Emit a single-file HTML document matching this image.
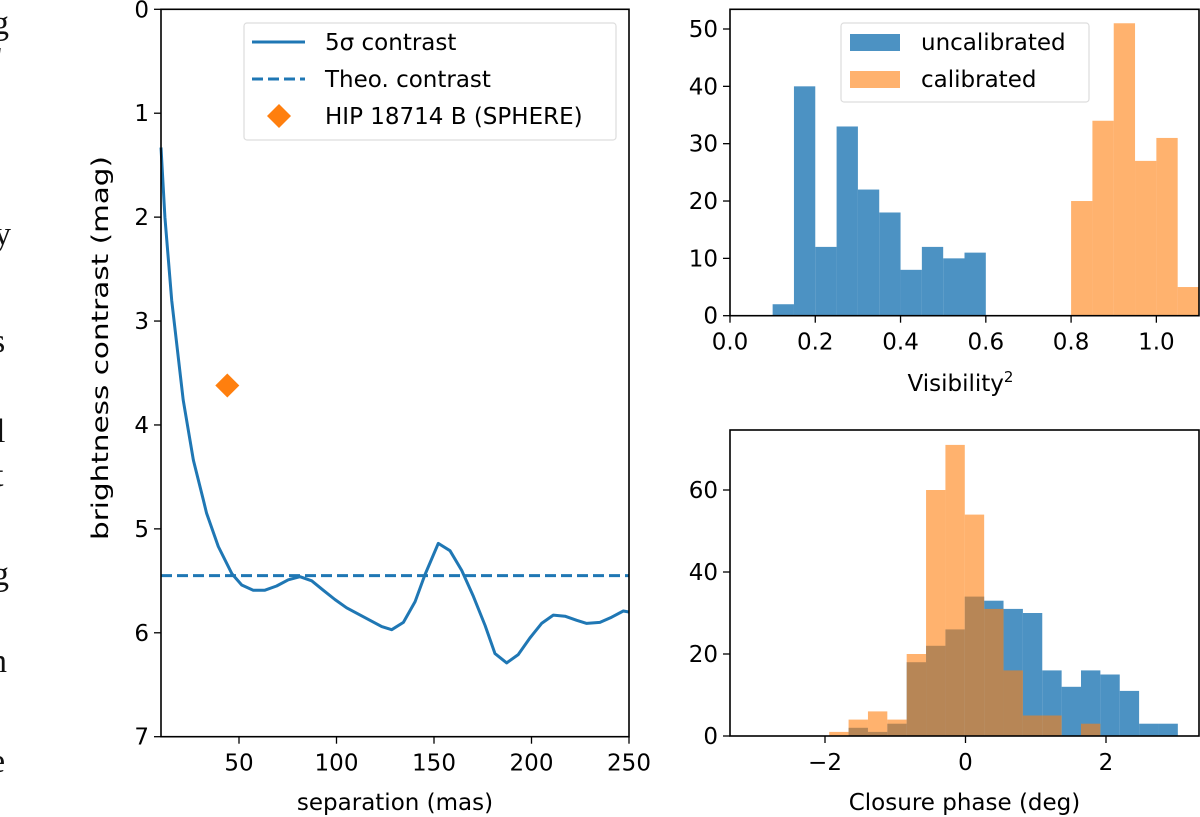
<!DOCTYPE html>
<html><head><meta charset="utf-8"><style>
html,body{margin:0;padding:0;background:#fff;}
svg{display:block;font-family:"DejaVu Sans","Liberation Sans",sans-serif;}
</style></head><body>
<svg id="fig" width="1200" height="817" viewBox="0 0 1200 817" xmlns="http://www.w3.org/2000/svg">
<g font-family="Liberation Serif, serif" font-size="34" fill="#111">
<text x="-8" y="34">g</text><text x="-4" y="70">'</text><text x="-6" y="245">y</text><text x="-8" y="352">s</text><text x="-4" y="442">l</text><text x="-6" y="486">t</text><text x="-8" y="585">g</text><text x="-10" y="672">n</text><text x="-10" y="772">e</text>
</g>
</svg>
<script>
// ---------- Left panel data ----------
const sepVals = [10,12,15.5,21.4,26.6,31.7,33.4,39.4,46.3,51.4,57.3,63.3,69.3,75.3,81.3,87.3,93.2,99.2,105.2,111.2,117.2,123.2,128.3,134.3,140.3,145.4,152.2,158.2,164.2,170.2,176.2,181.3,187.3,193.2,199.2,205.2,211.2,217.2,223.2,228.3,235.1,241.1,247.1,250];
const contrastVals = [1.33,2.0,2.8,3.76,4.34,4.72,4.85,5.17,5.43,5.54,5.59,5.59,5.55,5.49,5.46,5.50,5.59,5.68,5.76,5.82,5.88,5.94,5.97,5.90,5.70,5.44,5.14,5.21,5.40,5.65,5.93,6.20,6.29,6.21,6.05,5.91,5.83,5.84,5.88,5.91,5.90,5.85,5.79,5.80];
const theoContrast = [5.45];
const companionSep = [44];
const companionMag = [3.62];
const leftXTicks = [50,100,150,200,250];
const leftYTicks = [0,1,2,3,4,5,6,7];
// ---------- Top-right data ----------
const visEdgesStart = [0.10];
const visBinWidth = [0.05];
const visUncal = [2,40,12,33,22,18,8,12,10,11];
const visCalStart = [0.80];
const visCal = [20,34,51,27,31,5];
const visXTicks = [0.0,0.2,0.4,0.6,0.8,1.0];
const visYTicks = [0,10,20,30,40,50];
// ---------- Bottom-right data ----------
const cpStart = [-1.94];
const cpWidth = [0.2757];
const cpUncal = [0,2,1,3,18,22,26,34,33,31,30,16,12,16,15,11,3,3];
const cpCal = [1,4,6,4,20,60,71,54,31,16,5,5,0,3];
const cpXTicks = [-2,0,2];
const cpYTicks = [0,20,40,60];

const NS='http://www.w3.org/2000/svg';
const svg=document.getElementById('fig');
function mk(tag,attrs,parent){const e=document.createElementNS(NS,tag);for(const k in attrs)e.setAttribute(k,attrs[k]);(parent||svg).appendChild(e);return e;}
function lin(d0,d1,r0,r1){return v=>r0+(v-d0)*(r1-r0)/(d1-d0);}
const BLUE='#1f77b4',ORANGE='#ff7f0e';

function axesFrame(g,L,T,R,B){
  const f=mk('rect',{x:L,y:T,width:R-L,height:B-T,fill:'none',stroke:'#000','stroke-width':1.6},g);
  
  
}
function xTicks(g,ticks,sx,B,fmt){
  ticks.forEach(t=>{const x=sx(t);
    const l=mk('line',{x1:x,x2:x,y1:B,y2:B+7,stroke:'#000','stroke-width':1.3},g);
    
    
    const tx=mk('text',{x:x,y:B+34,'text-anchor':'middle','font-size':23},g);
    
    
    tx.textContent=fmt(t);});
}
function yTicks(g,ticks,sy,L,fmt){
  ticks.forEach(t=>{const y=sy(t);
    const l=mk('line',{x1:L-7,x2:L,y1:y,y2:y,stroke:'#000','stroke-width':1.3},g);
    
    
    const tx=mk('text',{x:L-12,y:y+8,'text-anchor':'end','font-size':23},g);
    
    
    tx.textContent=fmt(t);});
}

// ===== Left panel =====
(function(){
  const L=161,R=629,T=9.3,B=736.7;
  const g=mk('g',{});
  
  
  const sx=lin(10,250,L,R), sy=lin(0,7,T,B);
  const th=mk('line',{x1:L,x2:R,y1:sy(theoContrast[0]),y2:sy(theoContrast[0]),stroke:BLUE,'stroke-width':3,'stroke-dasharray':'11,5'},g);
  
  
  const pts=sepVals.map((s,i)=>sx(s).toFixed(1)+','+sy(contrastVals[i]).toFixed(1)).join(' ');
  const pl=mk('polyline',{points:pts,fill:'none',stroke:BLUE,'stroke-width':3,'stroke-linejoin':'round'},g);
  
  
  companionSep.forEach((s,i)=>{const cx=sx(s),cy=sy(companionMag[i]),r=12;
    const d=mk('polygon',{points:`${cx},${cy-r} ${cx+r},${cy} ${cx},${cy+r} ${cx-r},${cy}`,fill:ORANGE},g);
    
    });
  axesFrame(g,L,T,R,B);
  xTicks(g,leftXTicks,sx,B,t=>String(t));
  yTicks(g,leftYTicks,sy,L,t=>String(t));
  const xl=mk('text',{x:(L+R)/2,y:810,'text-anchor':'middle','font-size':23},g);
  
  
  xl.textContent='separation (mas)';
  const yl=mk('text',{x:0,y:0,'text-anchor':'middle','font-size':23,textLength:384,lengthAdjust:'spacingAndGlyphs',transform:`translate(108,348) rotate(-90)`},g);
  
  
  yl.textContent='brightness contrast (mag)';
  const lg=mk('g',{},g);
  
  
  mk('rect',{x:244,y:23,width:372,height:117,rx:3,fill:'#fff',stroke:'#ddd','stroke-width':1.2},lg);
  mk('line',{x1:252,x2:305,y1:42,y2:42,stroke:BLUE,'stroke-width':3},lg);
  mk('line',{x1:252,x2:305,y1:79,y2:79,stroke:BLUE,'stroke-width':3,'stroke-dasharray':'11,5'},lg);
  mk('polygon',{points:'279,104 291,116 279,128 267,116',fill:ORANGE},lg);
  [['5σ contrast',50],['Theo. contrast',87],['HIP 18714 B (SPHERE)',124]].forEach(([t,y])=>{
    const e=mk('text',{x:325,y:y,'font-size':23},lg);
    
    
    e.textContent=t;});
})();

// ===== Top-right histogram =====
(function(){
  const L=730,R=1199,T=9.3,B=315.7;
  const g=mk('g',{});
  
  
  const sx=lin(0,1.1,L,R), sy=lin(0,50,B,29);
  visUncal.forEach((c,i)=>{const x0=visEdgesStart[0]+i*visBinWidth[0];
    const r=mk('rect',{x:sx(x0),y:sy(c),width:sx(x0+visBinWidth[0])-sx(x0),height:B-sy(c),fill:BLUE,'fill-opacity':0.8},g);
    
    });
  visCal.forEach((c,i)=>{const x0=visCalStart[0]+i*visBinWidth[0];
    const r=mk('rect',{x:sx(x0),y:sy(c),width:sx(x0+visBinWidth[0])-sx(x0),height:B-sy(c),fill:ORANGE,'fill-opacity':0.6},g);
    
    });
  axesFrame(g,L,T,R,B);
  xTicks(g,visXTicks,sx,B,t=>t.toFixed(1));
  yTicks(g,visYTicks,sy,L,t=>String(t));
  const xl=mk('text',{x:(L+R)/2-4,y:391,'text-anchor':'middle','font-size':23},g);
  
  
  xl.innerHTML='Visibility<tspan dy="-9" font-size="15">2</tspan>';
  const lg=mk('g',{},g);
  
  
  mk('rect',{x:841,y:23,width:248,height:79,rx:3,fill:'#fff',stroke:'#ddd','stroke-width':1.2},lg);
  mk('rect',{x:850,y:34,width:50,height:17,fill:BLUE,'fill-opacity':0.8},lg);
  mk('rect',{x:850,y:71,width:50,height:17,fill:ORANGE,'fill-opacity':0.6},lg);
  [['uncalibrated',50],['calibrated',87]].forEach(([t,y])=>{
    const e=mk('text',{x:921,y:y,'font-size':23},lg);
    
    
    e.textContent=t;});
})();

// ===== Bottom-right histogram =====
(function(){
  const L=730,R=1199,T=430,B=736;
  const g=mk('g',{});
  
  
  const sx=lin(-2,2,825,1106), sy=lin(0,60,B,490);
  const w=cpWidth[0];
  cpUncal.forEach((c,i)=>{if(!c)return;const x0=cpStart[0]+i*w;
    const r=mk('rect',{x:sx(x0),y:sy(c),width:sx(x0+w)-sx(x0),height:B-sy(c),fill:BLUE,'fill-opacity':0.8},g);
    
    });
  cpCal.forEach((c,i)=>{if(!c)return;const x0=cpStart[0]+i*w;
    const r=mk('rect',{x:sx(x0),y:sy(c),width:sx(x0+w)-sx(x0),height:B-sy(c),fill:ORANGE,'fill-opacity':0.6},g);
    
    });
  axesFrame(g,L,T,R,B);
  xTicks(g,cpXTicks,sx,B,t=>t<0?'\u2212'+Math.abs(t):String(t));
  yTicks(g,cpYTicks,sy,L,t=>String(t));
  const xl=mk('text',{x:(L+R)/2,y:810,'text-anchor':'middle','font-size':23},g);
  
  
  xl.textContent='Closure phase (deg)';
})();
</script>
</body></html>
